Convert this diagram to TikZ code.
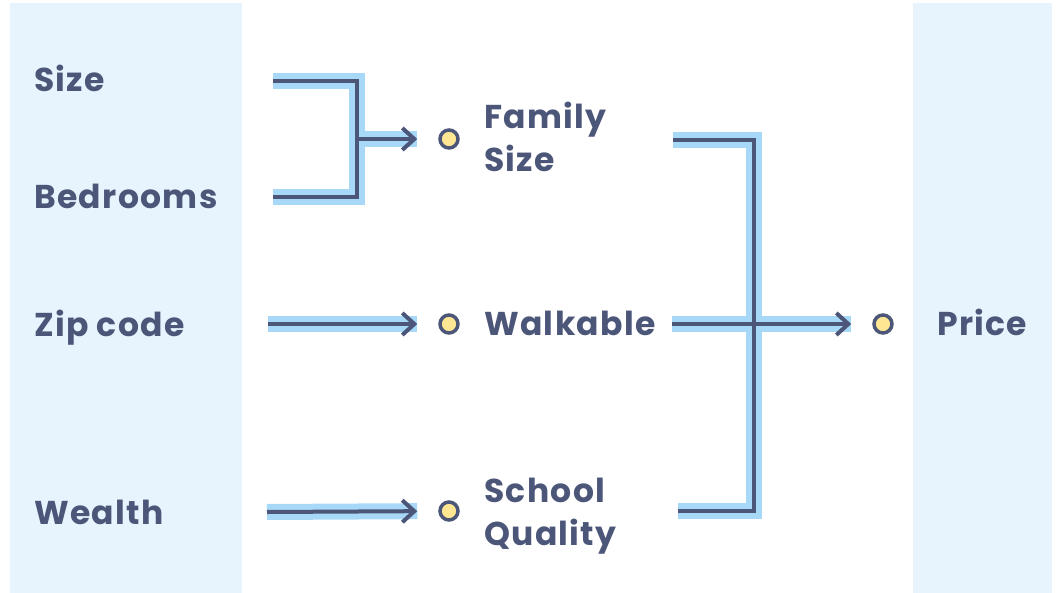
\documentclass[tikz,border=0pt]{standalone}
\usepackage{fontspec}
\setmainfont{Poppins}[LetterSpace=4]
\usetikzlibrary{positioning, arrows.meta, calc}
\definecolor{slateink}{RGB}{75,86,121}
\definecolor{glowblue}{RGB}{168,216,248}
\definecolor{panelblue}{RGB}{232,244,253}
\definecolor{dotyellow}{RGB}{255,230,146}
\newcommand{\wirecolor}{slateink}
\newcommand{\bandcolor}{glowblue}
\tikzset{
	lbl/.style={font=\fontsize{33}{43}\selectfont\bfseries, text=\wirecolor, inner sep=0, anchor=base west, align=left},
	dot/.style={circle, draw=\wirecolor, fill=dotyellow, line width=3.5pt, minimum size=18pt, inner sep=0},
	band/.style={draw=\bandcolor, line width=16pt},
	wire/.style={draw=\wirecolor, line width=4pt},
	feed/.style={-{Straight Barb[length=12pt, width=22pt]}}
}

\begin{document}
\begin{tikzpicture}[x=1pt, y=-1pt]
				\useasboundingbox (0,0) rectangle (1057,593);
				% side panels
				\fill[panelblue] (10,3) rectangle (242,593);
				\fill[panelblue] (913,3) rectangle (1052,593);

				% inputs
				\node[lbl] (size) at (34,92) {Size};
				\node[lbl] (bedrooms) at (34,209) {Bedrooms};
				\node[lbl] (zip) at (34,337) {Zip code};
				\node[lbl] (wealth) at (34,524) {Wealth};

				% hidden layer
				\node[dot] (famdot) at (449,139) {};
				\node[dot] (walkdot) at (449,324) {};
				\node[dot] (schooldot) at (449,511) {};
				\node[lbl] (family) at (484,172) {Family\\Size};
				\node[lbl] (walkable) at (484,336) {Walkable};
				\node[lbl] (school) at (484,545) {School\\Quality};

				% output
				\node[dot] (pricedot) at (883,324) {};
				\node[lbl] (price) at (937,336) {Price};

				% line ends
				\coordinate (sizeR) at (273,81);
				\coordinate (bedR) at (273,197);
				\coordinate (zipR) at (268,324);
				\coordinate (wealthR) at (267,512);
				\coordinate (leftjoin) at (357,139);
				\coordinate (famR) at (673,140);
				\coordinate (walkR) at (672,324);
				\coordinate (schoolR) at (678,511);
				\coordinate (rightjoin) at (754,324);

				% light bands
				\draw[band] (sizeR) -| (leftjoin) |- (bedR);
				\draw[band, shorten >=21pt] (leftjoin) -- (famdot);
				\draw[band, shorten >=21pt] (zipR) -- (walkdot);
				\draw[band, shorten >=21pt] (wealthR) -- (schooldot);
				\draw[band] (famR) -| (rightjoin) |- (schoolR);
				\draw[band, shorten >=21pt] (walkR) -- (pricedot);

				% dark wires
				\draw[wire] (sizeR) -| (leftjoin) |- (bedR);
				\draw[wire, feed, shorten >=21pt] (leftjoin) -- (famdot);
				\draw[wire, feed, shorten >=21pt] (zipR) -- (walkdot);
				\draw[wire, feed, shorten >=21pt] (wealthR) -- (schooldot);
				\draw[wire] (famR) -| (rightjoin) |- (schoolR);
				\draw[wire, feed, shorten >=21pt] (walkR) -- (pricedot);
\end{tikzpicture}
\end{document}
